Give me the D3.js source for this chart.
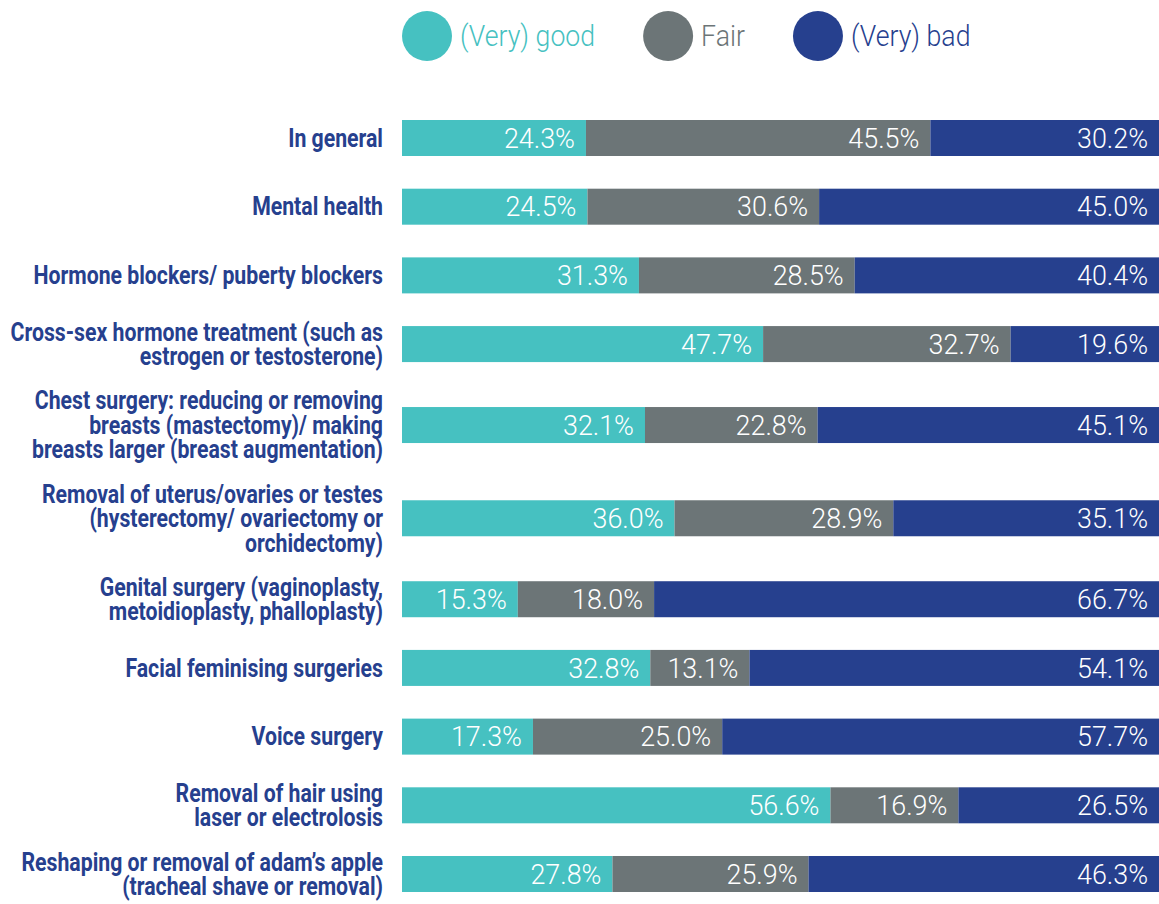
<html>
<head>
  <meta charset="utf-8">
  <title>Experience with care</title>
  <script src="https://d3js.org/d3.v7.min.js"></script>
  <style>
    body { margin: 0; background: #fff; }
    text { font-family: Roboto, "Noto Sans", sans-serif; }
  </style>
</head>
<body>
  <div id="chart"></div>

  <script type="text/javascript">

    // categories, one entry per line of the label
    var categories = [
      ["In general"],
      ["Mental health"],
      ["Hormone blockers/ puberty blockers"],
      ["Cross-sex hormone treatment (such as", "estrogen or testosterone)"],
      ["Chest surgery: reducing or removing", "breasts (mastectomy)/ making", "breasts larger (breast augmentation)"],
      ["Removal of uterus/ovaries or testes", "(hysterectomy/ ovariectomy or", "orchidectomy)"],
      ["Genital surgery (vaginoplasty,", "metoidioplasty, phalloplasty)"],
      ["Facial feminising surgeries"],
      ["Voice surgery"],
      ["Removal of hair using", "laser or electrolosis"],
      ["Reshaping or removal of adam\u2019s apple", "(tracheal shave or removal)"]
    ];

    var good = [24.3, 24.5, 31.3, 47.7, 32.1, 36.0, 15.3, 32.8, 17.3, 56.6, 27.8];
    var fair = [45.5, 30.6, 28.5, 32.7, 22.8, 28.9, 18.0, 13.1, 25.0, 16.9, 25.9];
    var bad  = [30.2, 45.0, 40.4, 19.6, 45.1, 35.1, 66.7, 54.1, 57.7, 26.5, 46.3];

    var seriesKeys = ["good", "fair", "bad"];
    var seriesNames = ["(Very) good", "Fair", "(Very) bad"];

    // build rows for d3.stack
    var data = categories.map(function(c, i) {
      return {id: i, lines: c, good: good[i], fair: fair[i], bad: bad[i]};
    });

    var width = 1159, height = 904;
    var margin = {top: 120, right: 0, bottom: 12, left: 402};
    var barH = 36;

    var svg = d3.select('#chart')
                .append('svg')
                  .attr('width', width)
                  .attr('height', height);

    // Rows with taller labels get more room
    var slot = function(n) { return n >= 3 ? 95 : 70; };
    var units = [0];
    for (var i = 1; i < data.length; i++) {
      units.push(units[i - 1] + (slot(data[i - 1].lines.length) + slot(data[i].lines.length)) / 2);
    }
    var y = d3.scaleLinear()
              .domain([0, units[units.length - 1]])
              .range([margin.top + barH / 2, height - margin.bottom - barH / 2]);
    var yc = function(d) { return y(units[d.id]); };

    var x = d3.scaleLinear().domain([0, 100]).range([margin.left, width - margin.right]);
    var z = d3.scaleOrdinal().domain(seriesKeys).range(["#46c1c1", "#6c7577", "#26408e"]);

    var stacked = d3.stack().keys(seriesKeys)(data);

    // bars
    var layers = svg.append('g')
      .selectAll('g')
      .data(stacked)
      .enter().append('g')
        .attr('fill', function(d) { return z(d.key); });

    layers.selectAll('rect')
      .data(function(d) { return d; })
      .enter().append('rect')
        .attr('x', function(d) { return x(d[0]); })
        .attr('y', function(d) { return yc(d.data) - barH / 2; })
        .attr('width', function(d) { return x(d[1]) - x(d[0]); })
        .attr('height', barH);

    // value labels, right aligned inside each segment
    layers.selectAll('text')
      .data(function(d) { return d; })
      .enter().append('text')
        .attr('transform', function(d) {
          return 'translate(' + (x(Math.min(d[1], 100)) - 11) + ',' + yc(d.data) + ') scale(0.96,1)';
        })
        .attr('dy', '0.35em')
        .attr('text-anchor', 'end')
        .attr('fill', '#fff')
        .style('font-size', '28px')
        .style('font-weight', 300)
        .text(function(d) { return (d[1] - d[0]).toFixed(1) + '%'; });

    // category labels
    var labels = svg.append('g')
      .selectAll('text')
      .data(data)
      .enter().append('text')
        .attr('transform', function(d) { return 'translate(383,' + yc(d) + ') scale(0.85,1)'; })
        .attr('text-anchor', 'end')
        .attr('fill', '#26408e')
        .style('font-size', '25px')
        .style('font-weight', 700);

    labels.selectAll('tspan')
      .data(function(d) { return d.lines.map(function(l, i) { return {t: l, i: i, n: d.lines.length}; }); })
      .enter().append('tspan')
        .attr('x', 0)
        .attr('y', function(d) { return (d.i - (d.n - 1) / 2) * 24.5; })
        .attr('dy', '0.35em')
        .text(function(d) { return d.t; });

    // legend
    var legend = svg.append('g').attr('transform', 'translate(402,36)');
    var lx = 0;
    seriesKeys.forEach(function(k, i) {
      var item = legend.append('g').attr('transform', 'translate(' + lx + ',0)');
      item.append('circle')
        .attr('cx', 25)
        .attr('r', 25)
        .attr('fill', z(k));
      var t = item.append('text')
        .attr('transform', 'translate(58,0) scale(0.92,1)')
        .attr('dy', '0.36em')
        .attr('fill', z(k))
        .style('font-size', '29px')
        .style('font-weight', 300)
        .text(seriesNames[i]);
      lx += 58 + t.node().getComputedTextLength() * 0.92 + 48;
    });

  </script>
</body>
</html>
